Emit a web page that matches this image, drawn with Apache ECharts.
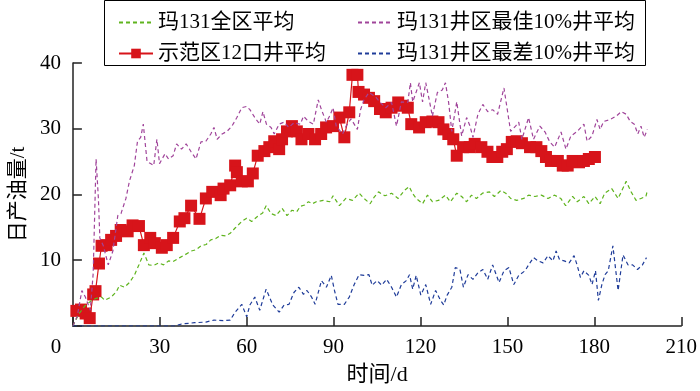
<!DOCTYPE html>
<html>
<head>
<meta charset="utf-8">
<script src="https://cdn.jsdelivr.net/npm/echarts@6/dist/echarts.min.js"></script>
<style>html,body{margin:0;padding:0;background:#fff;}#c{width:700px;height:391px;}</style>
</head>
<body>
<div id="c"></div>
<script>
const xTicks = [0, 30, 60, 90, 120, 150, 180, 210];
const yTicks = [0, 10, 20, 30, 40];
const seriesNames = ['玛131全区平均', '示范区12口井平均', '玛131井区最佳10%井平均', '玛131井区最差10%井平均'];

const greenDays = [0,2,4,6.5,8,9.9,11,13.2,15,16.1,17.8,19.5,21.2,22.8,24.5,26.2,27.9,29.6,31.3,33,34.6,36.9,38.6,40.8,42.5,44.2,46,47.6,49.3,51,52.7,54.3,56,58.3,60,61.7,63.8,65.5,66.7,68.4,70.1,72.2,73.9,75.6,77.3,78.5,80,81.3,82.7,84,86.4,88.7,89.8,92,94.2,96.5,98.8,100.5,102.6,104,105.5,107.7,110,112.3,114.4,116.1,117.2,118.5,120.7,122.4,124.1,126.2,128.6,130.3,132.5,134.2,135.9,137.6,139.3,141.4,143.8,145.5,147.7,149.4,151.1,153.2,155.6,157.3,159.5,161.7,164,166.3,168.4,170.1,172.5,174.1,176.4,178.1,180.2,182,183.6,186,188.2,191,192.7,194.4,196.1,197.8,198.3];
const greenVals = [0,1.8,3.0,3.9,4.2,4.4,3.9,4.4,5.2,6.2,5.9,6.6,7.7,9.3,11.1,9.3,9.2,9.6,9.3,9.9,9.8,10.4,10.8,11.4,11.6,12.2,12.4,13.1,13.3,13.8,13.7,14.1,14.9,15.9,16.4,15.9,16.7,17.2,18.3,17.1,16.8,17.9,16.8,17.6,17.4,18.2,18.4,18.9,18.6,18.9,19.1,18.9,19.8,18.3,19.4,19.1,20.2,19.4,18.6,19.6,20.4,19.8,20.2,19.4,20.6,21.2,20.2,19.4,18.6,19.9,18.9,19.1,19.9,18.9,20.2,19.7,18.9,19.9,19.4,20.2,20.4,19.7,20.6,20.2,19.4,19.1,19.4,19.9,19.7,19.9,19.4,19.9,19.4,18.3,19.7,18.9,19.7,18.6,19.7,18.6,20.2,20.9,19.4,22,20.4,19.1,19.4,19.7,20.6];

const redDays = [1.2,2.8,4.4,5.8,7,7.8,9,9.9,11.6,13.2,14.9,16.5,18.9,20.6,22.8,24.5,26.7,28.3,30.7,32.4,34.6,36.9,38.5,40.8,43.7,45.9,48.1,51,52,54.3,56,56.6,58.3,60.4,62.1,63.8,66.1,67.8,69.5,71.2,72.2,73.9,75.6,77.3,78.9,81.3,83.6,85.7,87.4,89.8,92,93.7,95.4,96.5,98.2,98.6,100.5,102.2,104,106,108,110,112.3,113.8,115.6,116.8,119.5,121.8,124.1,126.2,127.9,129.6,131.3,132.5,134.7,137,138.7,141,143.1,144.8,146.5,148.2,149.8,151.5,153.2,155,157.8,160,161.7,163.3,165,167.4,169.1,170.8,172.5,174.7,176.4,178.1,180.2];
const redVals = [2.3,2.5,1.9,1.2,4.8,5.3,9.5,12.2,12.3,13.1,13.7,14.6,14.4,15.3,15.2,12.3,13.4,12.6,11.9,12.3,13.4,15.9,16.4,18.3,16.3,19.4,20.4,19.9,20.9,21.4,24.4,23.4,22,22,23.2,25.9,26.6,27.2,28.1,26.9,28.4,29.6,30.4,29.6,28.4,29.2,28.4,29.2,30.2,30.4,31.7,28.7,32.5,38.2,38.2,35.6,35.2,34.7,34.2,33,32.5,33.2,34,33.5,33.2,30.7,30.2,31,31.1,31,29.9,29.2,28.4,25.9,27.2,27.2,27.7,27.2,26.5,25.7,25.7,26.5,26.9,28,28.1,27.8,27.2,27.2,26.6,25.7,25.1,25.1,24.4,24.4,25.1,24.9,25.1,25.4,25.7];

const bestDays = [0,1.5,3.1,4.3,6,7,8,8.8,9.3,10.5,12.2,13.8,15.5,16.6,18.3,19.5,21.2,22.3,23.4,24.3,25.6,26.8,27.9,29,29.9,31.8,33,34.6,35.8,37.5,39.1,40.8,42.5,44.2,45.9,47.6,48.7,49.8,51.5,53.2,54.9,56.6,58.3,60,61.1,62.8,64.5,65.6,66.8,68.4,69.5,71.2,72.9,74.5,76.3,78.5,79.6,81.3,83,84.7,85.8,87.5,88.7,89.8,90.9,93.1,94.3,96,97.1,98.2,99.3,100.5,102.2,104.4,106.1,108,110,111.7,113.4,115.6,116.5,117.3,118.5,119.6,120.7,121.8,123,124.1,125.8,127.5,128.6,129.7,130.8,132.5,134.2,135.9,137,138.1,139.8,141.5,143.2,144.9,146.6,148.8,151.1,152.8,153.9,155,157.3,159,161.2,163,164.6,166.3,168.5,170.2,171.9,174.1,176.4,177.5,179.2,180.9,182,183.2,185.4,187.5,189.3,191,192.4,193.8,195,196.1,197.2,198.3];
const bestVals = [0,1.5,5.4,4.4,2.4,8,25.4,19.4,13.4,12.2,9.3,11.4,16.8,17.1,19.4,22,24.4,28.1,28.7,30.7,25,24.7,24.4,28.4,24.7,26.2,25.4,25.9,27.7,26.9,27.7,26.5,25.4,28,28.1,29.2,30.2,28.4,29.2,29.6,30.4,31.7,33.2,33.4,32.9,31.7,30.7,32.6,30.7,30.2,29.2,30.7,31,30.2,30.9,30.7,31.9,31.1,30.7,34.4,32.9,31,32,33.2,30.4,29.2,30.4,31.5,30.7,29.9,32.9,34.4,35.5,34.9,34,33.2,34,30.4,34.1,34,37,34.1,35.6,37,34.1,37,34.4,31.9,35.5,35.9,37,34,29.6,34.1,28.9,31.7,30.5,28.7,32.2,33.7,32.6,32.9,32.2,36.2,29.6,30.4,31,28.4,31.7,28.4,30.4,29.5,28,27.2,29.5,26.9,28.9,29.6,30.7,28.1,28.9,31.4,29.9,31.1,31.4,31.9,32.6,32.2,31.1,30.7,29.2,30.4,28.7,29.9];

const worstDays = [0,35,37.5,42,45.9,48.7,52,54.3,56,58.3,60,61.1,62.8,64.5,66.7,69,71.2,72.9,74.6,76.3,78,79.6,80.8,82.4,83.6,85.8,87.5,89.2,90.3,91.5,93.7,95.4,97.1,98.8,100.5,102.2,103.3,105,106.6,108.3,110,111.7,113.4,115.1,116.2,117.3,118.5,120.1,121.8,123.5,125.2,126.9,128,129.2,130.8,132,133.6,134.8,136.4,138.1,139.8,141.5,143.2,144.9,147.1,148.8,150.5,152.2,153.9,156.1,157.3,159,160.6,162.3,164,165.7,166.8,168,169.6,171.3,173,174.1,175.2,176.4,178.1,179.2,180.4,181.4,182.6,183.7,184.8,186.4,188.2,189.9,191.6,193.2,194.9,196.6,198];
const worstVals = [0,0,0.3,0.5,0.6,0.9,0.8,0.9,2.1,3.3,1.4,3.2,4.4,2.4,5.6,3.2,2.1,3.2,3.3,5.1,5.9,4.8,5.4,4.4,3.3,6.9,5.9,7.7,5.4,3.3,3.3,4.4,6.3,7.8,7.7,7.8,6.2,6.9,6.2,7.1,5.9,4.4,6.3,6.9,7.8,5.6,7.7,4.7,6.3,3.3,5.4,3.9,3.2,4.7,5.9,8.9,8.6,5.9,7.8,7.1,8.1,8.6,7.1,9.3,6.6,8.4,8.9,6.3,7.7,8.4,9.3,10.4,9.9,9.6,10.7,9.9,11.4,10.1,9.9,9.6,10.7,9.2,7.4,8.4,7.7,6.3,8.4,3.9,6.3,7.8,8.4,12.2,5.4,10.8,9.3,9.3,8.6,9.3,10.4];

const zip = (a, b) => a.map((d, i) => [d, b[i]]);

const FONT = '"Liberation Serif", "Noto Sans CJK SC", serif';
const RED = '#d7141a';
const chart = echarts.init(document.getElementById('c'), null, {renderer: 'canvas'});

const dashed = (name, color, days, vals) => ({
  name, type: 'line', data: zip(days, vals), symbol: 'none', showSymbol: false,
  lineStyle: {color, width: 1.2, type: [4, 3]}, itemStyle: {color}, z: 3
});
const noSym = name => ({name, itemStyle: {opacity: 0, borderWidth: 0}});
const legText = {fontFamily: FONT, fontSize: 21, color: '#000', lineHeight: 20};

chart.setOption({
  animation: false,
  backgroundColor: '#fff',
  textStyle: {fontFamily: FONT},
  grid: {left: 64, right: 14, top: 63, bottom: 62, containLabel: false},
  graphic: [{
    type: 'rect', z: 50,
    shape: {x: 104.5, y: 0.5, width: 541, height: 65},
    style: {fill: '#fff', stroke: '#000', lineWidth: 1}
  }],
  legend: [{
    orient: 'vertical', left: 113, top: 7, itemGap: 10, itemWidth: 34, itemHeight: 12, z: 60,
    data: [noSym(seriesNames[0]), {name: seriesNames[1], itemStyle: {color: RED, borderWidth: 0}}],
    textStyle: legText
  }, {
    orient: 'vertical', left: 352, top: 7, itemGap: 10, itemWidth: 34, itemHeight: 12, z: 60,
    data: [noSym(seriesNames[2]), noSym(seriesNames[3])],
    textStyle: legText
  }],
  xAxis: {
    type: 'value', min: xTicks[0], max: xTicks[xTicks.length - 1], interval: 30,
    name: '时间/d', nameLocation: 'middle', nameGap: 38,
    nameTextStyle: {fontFamily: FONT, fontSize: 22, color: '#000'},
    axisLine: {lineStyle: {color: '#222', width: 1.5}},
    axisTick: {inside: true, length: 9, lineStyle: {color: '#222', width: 1.5}},
    splitLine: {show: false},
    axisLabel: {
      margin: 11, fontFamily: FONT, fontSize: 21, color: '#000',
      formatter: v => v === 0 ? '{z|0}' : String(v),
      rich: {z: {fontFamily: FONT, fontSize: 21, color: '#000', padding: [0, 34, 0, 0]}}
    }
  },
  yAxis: {
    type: 'value', min: yTicks[0], max: yTicks[yTicks.length - 1], interval: 10,
    name: '日产油量/t', nameLocation: 'middle', nameGap: 42, nameRotate: 90,
    nameTextStyle: {fontFamily: FONT, fontSize: 21, color: '#000'},
    axisLine: {show: true, lineStyle: {color: '#222', width: 1.5}},
    axisTick: {show: true, inside: true, length: 9, lineStyle: {color: '#222', width: 1.5}},
    splitLine: {show: false},
    axisLabel: {
      margin: 12, fontFamily: FONT, fontSize: 21, color: '#000',
      formatter: v => v === 0 ? '' : String(v)
    }
  },
  series: [
    dashed(seriesNames[0], '#5fb41e', greenDays, greenVals),
    {
      name: seriesNames[1], type: 'line', data: zip(redDays, redVals),
      symbol: 'rect', symbolSize: 12, showSymbol: true,
      lineStyle: {color: RED, width: 1.2},
      itemStyle: {color: RED, borderWidth: 0},
      z: 2
    },
    dashed(seriesNames[2], '#a0449a', bestDays, bestVals),
    dashed(seriesNames[3], '#1f3c99', worstDays, worstVals)
  ]
});
</script>
</body>
</html>
